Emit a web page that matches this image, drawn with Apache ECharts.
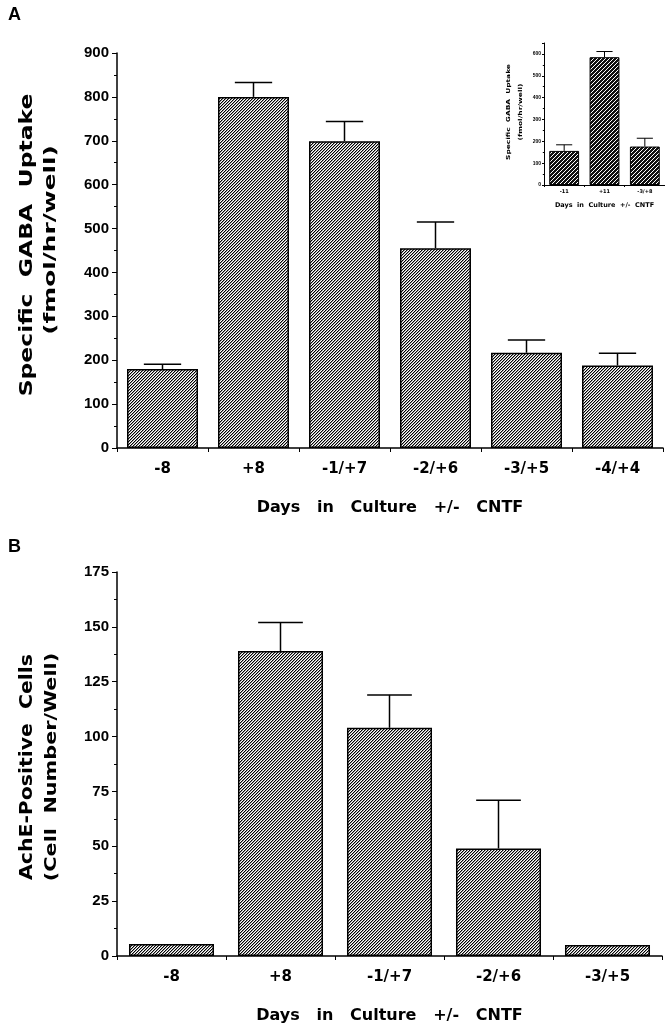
<!DOCTYPE html>
<html>
<head>
<meta charset="utf-8">
<script src="https://cdn.jsdelivr.net/npm/echarts@6/dist/echarts.min.js"></script>
<style>
  html, body { margin: 0; padding: 0; background: #fff; }
  #main { width: 665px; height: 1025px; }
</style>
</head>
<body>
<div id="main"></div>
<script>
// panel A : GABA uptake
var daysA = ['-8', '+8', '-1/+7', '-2/+6', '-3/+5', '-4/+4'];
var gabaA = [180, 800, 699, 455, 217, 188];
var gabaErrTopA = [191, 833, 744, 515, 246, 216];

// inset of panel A
var daysInset = ['-11', '+11', '-3/+8'];
var gabaInset = [156, 585, 176];
var gabaErrTopInset = [184, 611, 214];

// panel B : AchE positive cells
var daysB = ['-8', '+8', '-1/+7', '-2/+6', '-3/+5'];
var acheB = [5.5, 139, 104, 49, 5];
var acheErrTopB = [5.5, 152, 119, 71, 5];

var chart = echarts.init(document.getElementById('main'));

// hatch tile, "/" lines
function hatch(bg, fg, n, soft) {
  var c = document.createElement('canvas');
  c.width = n; c.height = n;
  var ctx = c.getContext('2d');
  ctx.fillStyle = bg;
  ctx.fillRect(0, 0, n, n);
  for (var i = 0; i < n; i++) {
    ctx.fillStyle = fg;
    ctx.fillRect(n - 1 - i, i, 1, 1);
    if (soft) {
      ctx.fillStyle = soft;
      ctx.fillRect((n - i) % n, i, 1, 1);
    }
  }
  return c;
}
var mainFill = { image: hatch('#ffffff', '#000000', 3, '#9a9a9a'), repeat: 'repeat' };
var insetFill = { image: hatch('#111111', '#ffffff', 4, null), repeat: 'repeat' };

// error bar (upward only) drawn with the axes
function errBar(widthRatio, lw) {
  return function (params, api) {
    var base = api.coord([api.value(0), api.value(1)]);
    var top = api.coord([api.value(0), api.value(2)]);
    if (base[1] - top[1] < 1) return;
    var half = api.size([1, 0])[0] * widthRatio / 2;
    var st = { stroke: '#000', lineWidth: lw };
    return {
      type: 'group',
      children: [
        { type: 'line', shape: { x1: base[0], y1: base[1], x2: top[0], y2: top[1] }, style: st },
        { type: 'line', shape: { x1: top[0] - half, y1: top[1], x2: top[0] + half, y2: top[1] }, style: st }
      ]
    };
  };
}

function errData(vals, tops) {
  return vals.map(function (v, i) { return [i, v, tops[i]]; });
}

var big = '"Liberation Sans", Arial, sans-serif';
var wide = '"DejaVu Sans", sans-serif';

function xAx(idx, cats, fs, nameFs, gap, lw, tick) {
  return {
    gridIndex: idx,
    type: 'category',
    data: cats,
    name: idx === 2 ? 'Days  in  Culture  +/-  CNTF' : 'Days   in   Culture   +/-   CNTF',
    nameLocation: 'middle',
    nameGap: gap,
    nameTextStyle: { color: '#000', fontFamily: wide, fontWeight: 'bold', fontSize: nameFs },
    axisLine: { lineStyle: { color: '#000', width: lw } },
    axisTick: { show: true, length: tick, lineStyle: { color: '#000', width: 1 } },
    axisLabel: { color: '#000', fontFamily: wide, fontWeight: 'bold', fontSize: fs, margin: idx === 2 ? 4 : 14 },
    splitLine: { show: false }
  };
}

function yAx(idx, max, interval, fs, lw, tick, margin) {
  return {
    gridIndex: idx,
    type: 'value',
    min: 0,
    max: max,
    interval: interval,
    axisLine: { show: true, lineStyle: { color: '#000', width: lw } },
    axisTick: { show: true, length: tick, lineStyle: { color: '#000', width: 1 } },
    minorTick: { show: true, splitNumber: 2, length: tick * 0.6, lineStyle: { color: '#000', width: 1 } },
    axisLabel: { color: '#000', fontFamily: big, fontWeight: 'bold', fontSize: fs, margin: margin, showMaxLabel: max % interval === 0 },
    splitLine: { show: false }
  };
}

function yTitle(x, y, text, fs, sx) {
  return {
    type: 'text', x: x, y: y, rotation: Math.PI / 2, scaleX: sx, scaleY: 1,
    style: { text: text, fill: '#000', font: 'bold ' + fs + 'px ' + wide, align: 'center', verticalAlign: 'middle' }
  };
}

var option = {
  animation: false,
  backgroundColor: '#fff',
  grid: [
    { left: 117, top: 53, width: 546, height: 395 },
    { left: 117, top: 572, width: 545, height: 393 },
    { left: 544, top: 43, width: 121, height: 142 }
  ],
  xAxis: [
    xAx(0, daysA, 15, 16, 52, 1.5, 4),
    xAx(1, daysB, 15, 16, 52, 1.5, 4),
    xAx(2, daysInset, 5, 6.5, 17, 1, 2)
  ],
  yAxis: [
    yAx(0, 900, 100, 15, 1.5, 5, 8),
    yAx(1, 175, 25, 15, 1.5, 5, 8),
    yAx(2, 650, 100, 5, 1, 2, 3)
  ],
  graphic: [
    { type: 'text', x: 8, y: 6, style: { text: 'A', fill: '#000', font: 'bold 18px ' + big } },
    { type: 'text', x: 8, y: 538, style: { text: 'B', fill: '#000', font: 'bold 18px ' + big } },
    yTitle(28, 245, 'Specific  GABA  Uptake', 17, 1.38),
    yTitle(51, 240, '(fmol/hr/well)', 16, 1.55),
    yTitle(28, 767, 'AchE-Positive  Cells', 17, 1.2),
    yTitle(52, 767, '(Cell  Number/Well)', 16, 1.3),
    yTitle(509, 112, 'Specific  GABA  Uptake', 5.5, 1.35),
    yTitle(521, 112, '(fmol/hr/well)', 5.5, 1.35)
  ],
  series: [
    {
      type: 'bar', xAxisIndex: 0, yAxisIndex: 0, data: gabaA, barWidth: '78%',
      itemStyle: { color: mainFill, borderColor: '#000', borderWidth: 1.5 }
    },
    {
      type: 'custom', xAxisIndex: 0, yAxisIndex: 0, data: errData(gabaA, gabaErrTopA),
      encode: { x: 0, y: [1, 2] }, renderItem: errBar(0.41, 1.5), z: 3
    },
    {
      type: 'bar', xAxisIndex: 1, yAxisIndex: 1, data: acheB, barWidth: '78%',
      itemStyle: { color: mainFill, borderColor: '#000', borderWidth: 1.5 }
    },
    {
      type: 'custom', xAxisIndex: 1, yAxisIndex: 1, data: errData(acheB, acheErrTopB),
      encode: { x: 0, y: [1, 2] }, renderItem: errBar(0.41, 1.5), z: 3
    },
    {
      type: 'bar', xAxisIndex: 2, yAxisIndex: 2, data: gabaInset, barWidth: '74%',
      itemStyle: { color: insetFill, borderColor: '#000', borderWidth: 1 }
    },
    {
      type: 'custom', xAxisIndex: 2, yAxisIndex: 2, data: errData(gabaInset, gabaErrTopInset),
      encode: { x: 0, y: [1, 2] }, renderItem: errBar(0.4, 1), z: 3
    }
  ]
};

chart.setOption(option);
window.addEventListener('resize', function () {
  chart.resize();
});
</script>
</body>
</html>
